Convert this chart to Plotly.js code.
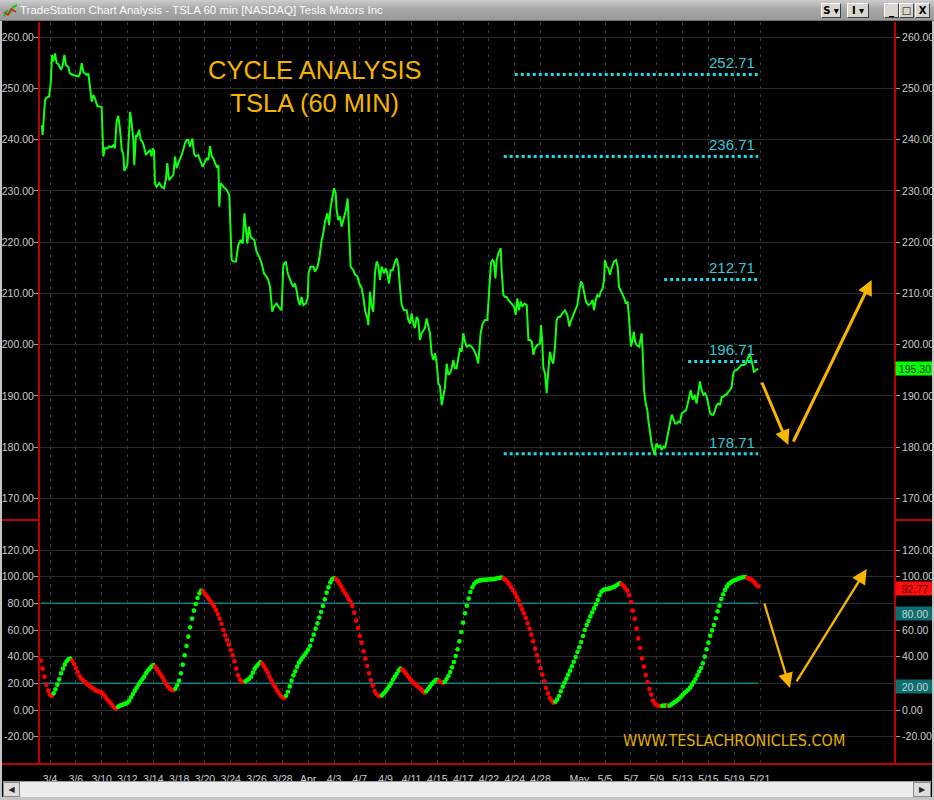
<!DOCTYPE html>
<html><head><meta charset="utf-8">
<script src="https://cdn.plot.ly/plotly-3.0.1.min.js"></script>
<style>
html,body{margin:0;padding:0;background:#000;}
#wrap{position:relative;width:934px;height:800px;overflow:hidden;background:#000;}
#chart{position:absolute;left:0;top:0;width:934px;height:800px;}
#titlebar{position:absolute;left:0;top:0;width:934px;height:21px;background:linear-gradient(#cdcdcd,#a8a8a8 45%,#999);border-bottom:1px solid #707070;box-sizing:border-box;}
#titletext{position:absolute;left:20px;top:4px;font:11.5px 'Liberation Sans',Arial,sans-serif;color:#fbfbfb;white-space:nowrap;}
.btn{position:absolute;top:3px;height:15px;background:#d8d5ce;border:1px solid;border-color:#fff #404040 #404040 #fff;box-sizing:border-box;font:bold 10px 'DejaVu Sans',sans-serif;color:#000;text-align:center;line-height:13px;}
.side{position:absolute;background:#c4c4c4;}
#scroll{position:absolute;left:3px;top:781px;width:928px;height:16px;background:#ececec;border-top:1px solid #9a9a9a;box-sizing:border-box;}
.sbtn{position:absolute;top:0;width:17px;height:15px;background:#dcdcdc;border:1px solid #8a8a8a;box-sizing:border-box;font:8px 'DejaVu Sans',sans-serif;line-height:13px;text-align:center;color:#222;}
</style></head>
<body>
<div id="wrap">
<div id="chart"></div>
<div id="titlebar">
  <svg style="position:absolute;left:3px;top:3px" width="15" height="15" viewBox="0 0 15 15">
    <polyline points="1,13 4,8 7,10 10,4 14,2" fill="none" stroke="#18c818" stroke-width="2"/>
    <polyline points="1,9 5,12 8,6 13,9" fill="none" stroke="#d82020" stroke-width="1.5"/>
  </svg>
  <div id="titletext">TradeStation Chart Analysis - TSLA 60 min [NASDAQ] Tesla Motors Inc</div>
  <div class="btn" style="left:821px;width:20px">S ▾</div>
  <div class="btn" style="left:847px;width:22px">I ▾</div>
  <div class="btn" style="left:884px;width:15px">_</div>
  <div class="btn" style="left:899px;width:15px">□</div>
  <div class="btn" style="left:915px;width:15px">X</div>
</div>
<div class="side" style="left:0;top:21px;width:2px;height:779px"></div>
<div class="side" style="left:932px;top:21px;width:2px;height:779px"></div>
<div class="side" style="left:0;top:797px;width:934px;height:3px"></div>
<div id="scroll">
  <div class="sbtn" style="left:0">◀</div>
  <div class="sbtn" style="left:910px;width:18px">▶</div>
</div>
</div>
<script>
// ---- data ----
const tradingDays = ['3/3','3/4','3/5','3/6','3/7','3/10','3/11','3/12','3/13','3/14','3/17','3/18','3/19','3/20','3/21','3/24','3/25','3/26','3/27','3/28','3/31','4/1','4/2','4/3','4/4','4/7','4/8','4/9','4/10','4/11','4/14','4/15','4/16','4/17','4/21','4/22','4/23','4/24','4/25','4/28','4/29','4/30','5/1','5/2','5/5','5/6','5/7','5/8','5/9','5/12','5/13','5/14','5/15','5/16','5/19','5/20','5/21'];
const tickDays = ['3/4','3/6','3/10','3/12','3/14','3/18','3/20','3/24','3/26','3/28','4/1','4/3','4/7','4/9','4/11','4/15','4/17','4/22','4/24','4/28','5/1','5/5','5/7','5/9','5/13','5/15','5/19','5/21'];
const tickLabels = ['3/4','3/6','3/10','3/12','3/14','3/18','3/20','3/24','3/26','3/28','Apr','4/3','4/7','4/9','4/11','4/15','4/17','4/22','4/24','4/28','May','5/5','5/7','5/9','5/13','5/15','5/19','5/21'];
const barsPerDay = 7;

// price (60 min closes), x = bar number counted from 3/3 first bar
const priceBar = [
5.5,6.0,6.7,7.3,8.2,9.5,10.4,11.1,11.8,12.7,
13.6,14.5,16.0,16.9,17.8,18.7,19.9,20.8,22.6,25.4,
26.3,27.2,28.1,29.9,30.8,31.7,32.6,33.5,34.4,35.7,
38.0,38.9,39.8,41.1,42.2,43.4,44.3,45.2,46.1,47.0,
48.0,48.9,49.8,50.3,51.2,51.9,52.8,53.4,54.3,55.2,
55.7,56.6,57.3,58.3,59.2,60.1,61.0,62.0,63.3,64.2,
65.1,65.7,66.4,66.9,67.8,69.3,70.5,71.8,72.9,73.6,
74.5,76.0,76.9,77.8,78.7,79.6,80.5,81.7,83.2,84.1,
85.0,85.9,87.2,88.1,89.0,90.4,91.7,92.8,93.7,94.9,
95.8,96.8,97.7,98.6,99.5,100.4,101.3,101.8,102.5,104.0,
105.8,107.2,108.5,109.4,110.8,112.1,113.4,114.5,115.4,116.1,
117.0,117.9,118.8,119.7,120.8,122.0,123.5,124.8,126.0,127.5,
128.4,129.3,130.5,131.4,132.9,133.8,134.7,135.6,136.5,137.8,
138.9,140.1,141.0,141.9,142.8,143.7,144.6,145.5,146.4,147.4,
148.6,149.7,150.2,151.3,152.8,153.7,155.1,156.0,157.3,158.2,
159.1,160.4,161.3,162.2,163.1,164.0,164.9,165.4,166.3,167.2,
168.1,169.0,170.5,171.4,172.1,173.0,174.5,175.4,176.6,177.7,
179.0,179.9,180.8,182.1,182.6,183.5,184.4,185.3,186.2,187.1,
188.0,188.9,189.8,191.1,192.0,192.9,193.8,194.7,195.8,197.1,
198.0,198.9,199.8,200.7,201.9,203.4,204.3,205.2,206.1,207.0,
207.9,208.8,209.7,210.6,211.5,212.4,213.3,214.2,215.1,216.0,
216.9,217.9,218.8,219.7,220.6,221.5,222.4,223.3,224.2,225.1,
226.0,226.9,227.8,228.7,229.6,230.5,231.4,232.3,233.2,234.1,
235.0,235.9,237.4,238.6,239.9,241.0,242.2,243.5,244.6,245.9,
247.1,248.2,249.1,250.0,250.7,251.5,252.2,253.1,254.4,254.9,
255.8,256.7,257.6,258.5,259.4,260.3,261.6,262.5,263.4,264.3,
265.2,266.1,267.2,268.5,269.4,270.3,271.2,272.1,273.0,274.2,
275.7,276.2,276.9,277.5,278.4,279.3,280.2,281.1,282.0,282.9,
283.8,284.7,285.6,286.5,287.8,289.2,290.5,291.6,292.3,293.4,
294.7,295.9,297.0,297.9,298.8,299.7,300.6,301.9,303.2,304.2,
305.0,305.9,306.8,307.8,308.6,309.7,310.4,310.9,311.8,312.7,
313.6,314.5,315.8,316.9,317.8,318.5,319.4,320.5,321.4,322.3,
323.2,323.9,324.5,325.0,325.7,326.6,327.2,328.1,329.5,330.8,
331.3,332.1,333.0,333.9,334.4,335.3,336.2,337.1,338.0,338.4,
338.9,339.9,340.8,341.7,342.6,343.5,344.4,345.3,346.2,347.1,
348.0,348.9,349.8,350.7,351.6,352.5,353.8,354.9,355.6,356.7,
357.4,358.5,359.6,360.6,361.5,362.4,363.3,364.3,365.2,366.1,
367.0,367.9,368.8,369.7,370.6,371.5,372.4,373.3,374.2,375.1,
376.0,376.9,377.8,378.7,379.6,380.5,381.4,382.3,383.8,385.0,
386.3,387.4,388.6,389.2,389.9,391.0,391.7,392.8,394.0];
const priceVal = [
242.8,240.9,244.5,247.7,248.2,248.4,251.0,256.5,255.2,256.8,
254.9,254.7,253.6,254.5,256.5,254.5,254.2,252.9,252.6,252.3,
252.9,254.9,253.2,252.6,252.9,250.6,247.4,248.7,248.0,246.5,
246.4,236.7,238.3,238.3,238.7,238.5,238.9,238.3,243.5,244.6,
241.9,238.0,237.0,233.9,234.4,235.0,240.6,245.4,243.2,239.9,
235.0,240.9,240.6,241.9,239.9,239.6,238.6,237.0,237.6,237.9,
236.7,238.3,237.9,231.5,230.8,231.5,230.8,230.5,232.4,235.4,
232.1,232.8,233.1,236.7,234.4,235.4,236.3,237.3,239.3,239.9,
239.9,238.6,240.2,237.3,236.7,237.0,235.7,234.7,235.4,236.3,
236.0,238.7,236.7,236.3,235.4,234.7,235.0,226.9,231.5,230.8,
230.2,229.2,216.5,216.2,216.2,219.4,220.4,219.7,225.6,222.7,
219.7,223.0,221.0,220.7,220.4,218.1,217.1,215.8,213.9,213.2,
212.6,211.3,206.4,207.4,208.0,207.4,207.1,206.7,215.5,216.2,
213.9,212.6,211.9,211.3,211.9,210.6,208.7,207.7,209.3,207.7,
208.0,209.0,213.9,215.2,215.2,214.2,215.2,216.8,220.4,221.7,
224.0,225.6,223.3,226.9,228.9,230.5,229.5,226.3,224.3,225.0,
223.0,224.3,226.3,228.5,222.0,215.2,214.5,213.6,213.4,211.9,
211.0,209.3,206.7,205.1,203.8,210.3,207.4,206.4,213.9,216.2,
215.5,212.6,215.2,213.9,214.9,213.9,211.9,214.5,214.5,216.2,
216.8,215.2,211.0,207.7,206.7,206.7,204.8,204.1,206.1,204.1,
203.2,205.4,204.8,200.9,202.2,202.8,203.2,205.1,203.8,202.2,
198.3,197.0,198.3,196.3,192.4,191.8,188.2,189.8,191.8,196.3,
194.1,194.4,195.4,197.0,195.4,195.4,197.0,199.3,198.6,202.2,
200.6,199.6,199.9,199.6,198.9,198.0,196.3,202.2,204.1,204.8,
204.8,210.0,215.9,216.5,216.2,212.9,216.5,217.8,218.8,214.5,
209.7,209.3,209.3,208.7,208.4,208.0,207.4,205.8,209.0,206.7,
208.4,207.4,208.0,207.7,200.9,200.9,200.6,198.0,199.3,199.9,
200.2,203.8,200.6,195.4,194.4,190.5,195.0,198.6,197.0,196.3,
199.6,204.8,205.4,205.4,206.1,206.7,205.8,203.5,204.5,205.4,
206.4,207.7,210.6,212.3,211.6,210.0,208.4,207.7,208.0,208.7,
206.7,208.7,209.7,209.3,210.3,211.0,212.6,216.5,215.2,214.9,
213.6,214.9,216.2,216.5,215.2,211.3,210.6,210.0,209.0,208.0,
208.4,205.4,202.2,199.6,200.6,202.5,200.6,199.9,199.6,202.2,
198.9,191.1,188.5,187.2,185.3,182.7,180.7,179.4,178.4,180.1,
180.7,179.8,180.4,179.4,180.1,179.8,181.4,183.3,185.3,186.3,
185.6,184.6,184.6,185.0,184.8,186.6,186.9,187.2,188.2,189.8,
191.1,189.2,190.2,188.5,190.5,192.8,191.1,190.2,190.5,189.8,
188.2,186.6,186.3,186.3,187.2,188.2,188.5,188.2,189.8,189.8,
190.2,190.2,190.8,191.1,191.8,194.4,195.0,195.0,195.6,196.0,
196.0,196.3,197.6,198.0,197.6,196.0,194.7,195.0,195.3];

// cycle oscillator, one value per 60 min bar, starting at bar 5
const oscFirstBar = 5;
const oscVal = [
37,31,25,19,14.5,11.5,10.5,12.5,15.5,19,
23,27.5,31,34,36.5,38,38.5,37,34.5,31.5,
28.5,25.5,23.5,22,21,19.5,18.5,17.5,16.5,15.5,
14.5,14,13.7,13,11.5,10,8,6.5,5,3,
1.7,1,2.5,3.3,3.8,4.3,4.8,5.5,7,9.5,
12,14.5,16.7,19,21,23,25,27.5,29.5,31,
32.5,33.7,32.5,30.5,28.5,26.5,24.5,22,19.5,17.5,
16,15,14.8,16,18.5,22,27.5,34,41,48,
55,62,68.5,74.5,79.5,84,87.5,89.5,89,87,
85.5,83.5,81.5,79.5,77.5,75,72,68.5,64.5,60,
56,52.5,49,45,41,36.5,31,26,22.7,21.3,
21,21.5,22.5,23.5,25,28,31,32.8,34.5,35.7,
34.8,33,30.5,28,25,22.5,19.5,17.5,15,13,
11,9.7,9,10.7,13.7,17.7,22,26,29,32.5,
35.5,37.5,39.5,41.2,43.2,45.3,48.2,52.5,56.5,61,
65,69.3,73.5,78,83,88,92,95.7,98,98.8,
98.2,97,94.7,92.5,90,87.5,85.5,83,81,78,
73,67,61.5,55.5,50.5,44,38.5,33,27.5,22.5,
18.3,14.2,12,10.8,10.3,11,12.5,14,16,18,
20,22.8,25,27.2,29.5,31,30.3,29,27.5,25.5,
23.5,22,20.5,19.5,18,17,15.8,14.5,13,14,
15.8,17.5,19.3,21,22.2,22.6,21.8,21.2,20.2,21,
23.2,25.5,28.5,32,36,40.5,45.5,51.5,58.5,65.5,
72.5,78.2,83.5,88.5,92,94.5,96,96.8,97.2,97.4,
97.6,97.7,97.8,97.9,98,98.1,98.3,98.6,98.9,99.1,
99.3,98.5,97.7,96.2,94.4,92.2,90,87.7,85,82.3,
78.7,75.5,72.5,69,65,61,56.5,51.5,46,41,
36.5,31.5,26.5,21.5,16.5,12.5,9,7,5.5,6.2,
7.8,10.5,14,17.5,20.5,23.5,26.5,29.5,32.8,36.2,
39.8,43.5,47,51,55.5,60,63.7,66.8,70.2,73.2,
76.2,79.2,82.5,86,88.7,90,90.5,90.8,91,91.4,
92,92.5,93.4,94.3,95,94.5,93,91.2,89.5,86,
81,74.5,68.5,61,53.7,46.5,38.7,32.5,26.2,21,
15.7,11.5,7,4.7,3.6,3.2,3.0,3.1,3.3,3.4,
3.2,3.3,4.2,5.2,6.2,7.2,8.3,9.8,11.2,12.7,
13.8,15.2,16.7,18.8,20.8,23.2,26,28.8,31.5,35,
40,45.5,50.5,55.7,59.7,63.7,68.8,74,78.2,83.2,
86.8,90,92.5,94.5,95.5,96.5,97.2,97.7,98.4,98.9,
99.4,99.6,99.7,99,98.5,98,97,95.5,93.8,92.77];

const levels = [252.71, 236.71, 212.71, 196.71, 178.71];
const levelStartBar = [262, 256, 343, 356, 256];
const bandLevels = [80, 20];
const priceTicks = [170,180,190,200,210,220,230,240,250,260];
const oscTicks = [-20,0,20,40,60,80,100,120];

// ---- build ----
const oscBar = oscVal.map((v,i)=>oscFirstBar+i);
const lastBar = oscBar[oscBar.length-1];
const GREEN='#00ff00', RED='#ff0000';
const oscColors = oscVal.map((v,i)=> i===0 ? (oscVal[1] < v ? RED : GREEN) : (v >= oscVal[i-1] ? GREEN : RED));
const tickVals = tickDays.map(d => tradingDays.indexOf(d)*barsPerDay + Math.floor(barsPerDay/2));
const lastPrice = priceVal[priceVal.length-1];
const lastOsc = oscVal[oscVal.length-1];

const FONT = 'Liberation Sans, Arial, sans-serif';
const LBL = {family: FONT, size: 10.5, color: '#cccccc'};

const traces = [];
levels.forEach((lv,i)=>{
  traces.push({x:[levelStartBar[i], lastBar], y:[lv, lv], mode:'lines', xaxis:'x', yaxis:'y',
    line:{color:'#14dcec', width:3, dash:'3px,3px'}, hoverinfo:'skip'});
});
bandLevels.forEach(lv=>{
  traces.push({x:[oscBar[0], lastBar], y:[lv, lv], mode:'lines', xaxis:'x', yaxis:'y2',
    line:{color:'#127c7c', width:1.5}, hoverinfo:'skip'});
});
traces.push({x:priceBar, y:priceVal, mode:'lines', xaxis:'x', yaxis:'y',
  line:{color:'#11ff11', width:2}, hoverinfo:'skip'});
traces.push({x:oscBar, y:oscVal, mode:'markers', xaxis:'x', yaxis:'y2',
  marker:{color:oscColors, size:4.6, line:{width:0}}, hoverinfo:'skip'});
// carriers for the right-hand scales
traces.push({x:[oscBar[0]], y:[levels[0]], mode:'markers', xaxis:'x', yaxis:'y3', marker:{opacity:0}, hoverinfo:'skip'});
traces.push({x:[oscBar[0]], y:[bandLevels[0]], mode:'markers', xaxis:'x', yaxis:'y4', marker:{opacity:0}, hoverinfo:'skip'});

const split = 244/742;
const priceRange = [165.77, 262.94];
const oscRange = [-40.5, 142.5];
const fmt = a => a.map(v => v.toFixed(2));
const rightOsc = oscTicks.filter(v => !bandLevels.includes(v));

const yBase = {showline:true, linecolor:'#c00000', linewidth:2, ticks:'outside', ticklen:4, tickcolor:'#a0a0a0',
  tickfont:LBL, zeroline:false, fixedrange:true};

const layout = {
  width:934, height:800,
  paper_bgcolor:'#000', plot_bgcolor:'#000',
  margin:{l:40, r:40, t:22, b:36, pad:0},
  showlegend:false, hovermode:false,
  xaxis:{range:[4.58, 467.63], anchor:'y2', tickmode:'array', tickvals:tickVals, ticktext:tickLabels,
    showgrid:true, gridcolor:'#3a3a3a', griddash:'3px,5px', gridwidth:1,
    ticks:'outside', ticklen:5, tickcolor:'rgba(0,0,0,0)', tickfont:LBL, showline:false, zeroline:false, fixedrange:true},
  yaxis:Object.assign({}, yBase, {domain:[split,1], range:priceRange, tickmode:'array', tickvals:priceTicks, ticktext:fmt(priceTicks),
    side:'left', showgrid:true, gridcolor:'#2a2a2a', gridwidth:1, ticklabelstandoff:-2}),
  yaxis2:Object.assign({}, yBase, {domain:[0,split], range:oscRange, tickmode:'array', tickvals:oscTicks, ticktext:fmt(oscTicks),
    side:'left', showgrid:true, gridcolor:'#2a2a2a', gridwidth:1, ticklabelstandoff:-2}),
  yaxis3:Object.assign({}, yBase, {overlaying:'y', side:'right', range:priceRange, tickmode:'array', tickvals:priceTicks, ticktext:fmt(priceTicks), showgrid:false}),
  yaxis4:Object.assign({}, yBase, {overlaying:'y2', side:'right', range:oscRange, tickmode:'array', tickvals:rightOsc, ticktext:fmt(rightOsc), showgrid:false}),
  shapes:[
    {type:'line', xref:'paper', yref:'paper', x0:-40/854, x1:0, y0:split, y1:split, line:{color:'#c00000', width:2}},
    {type:'line', xref:'paper', yref:'paper', x0:1, x1:1+40/854, y0:split, y1:split, line:{color:'#c00000', width:2}},
    {type:'line', xref:'paper', yref:'paper', x0:-40/854, x1:1+40/854, y0:0, y1:0, line:{color:'#c00000', width:2}}
  ],
  annotations:[]
};

const A = layout.annotations;
A.push({xref:'paper', yref:'paper', x:0.322, y:0.9131, xanchor:'center', yanchor:'middle',
  text:'CYCLE ANALYSIS<br>TSLA (60 MIN)', showarrow:false,
  font:{family:FONT, size:25.5, color:'#f4b400'}, align:'center'});
A.push({xref:'paper', yref:'paper', x:0.8126, y:0.0323, xanchor:'center', yanchor:'middle',
  text:'WWW.TESLACHRONICLES.COM', showarrow:false,
  font:{family:'DejaVu Sans Condensed, Liberation Sans, sans-serif', size:16, color:'#e2b000'}});
levels.forEach(lv=>{
  A.push({xref:'x', yref:'y', x:lastBar, y:lv, xanchor:'right', yanchor:'bottom', text:lv.toFixed(2), showarrow:false,
    xshift:-1, yshift:1, font:{family:FONT, size:15, color:'#38c6d6'}});
});
function box(y, yref, txt, bg, fg, ys){
  A.push({xref:'paper', yref:yref, x:1, y:y, xanchor:'left', yanchor:'middle', xshift:1, yshift:ys||0, text:txt, showarrow:false,
    bgcolor:bg, width:36, height:11, borderpad:1, font:{family:FONT, size:10.5, color:fg}});
}
box(lastPrice, 'y', lastPrice.toFixed(2), '#00ff00', '#062806', 0);
box(lastOsc, 'y2', lastOsc.toFixed(2), '#ff0c0c', '#3a0000', -2);
box(bandLevels[0], 'y2', bandLevels[0].toFixed(2), '#0b6f70', '#cfcfcf', -10);
box(bandLevels[1], 'y2', bandLevels[1].toFixed(2), '#0b6f70', '#cfcfcf', -3);

function arrow(x, y, yref, ax, ay, w, s){
  A.push({xref:'x', yref:yref, x:x, y:y, ax:ax, ay:ay, text:'', showarrow:true, arrowhead:2, arrowsize:s, arrowwidth:w,
    arrowcolor:'#f7b500', standoff:0});
}
arrow(410.3, 180.4, 'y', -27, -64, 3, 1);
arrow(455.5, 212.6, 'y', -79, 163, 3, 1);
arrow(411.2, 16.5, 'y2', -26, -86, 2.3, 1.3);
arrow(452.8, 105.8, 'y2', -71, 114, 2.3, 1.3);

Plotly.newPlot('chart', traces, layout, {staticPlot:true, displayModeBar:false});
</script>
</body></html>
